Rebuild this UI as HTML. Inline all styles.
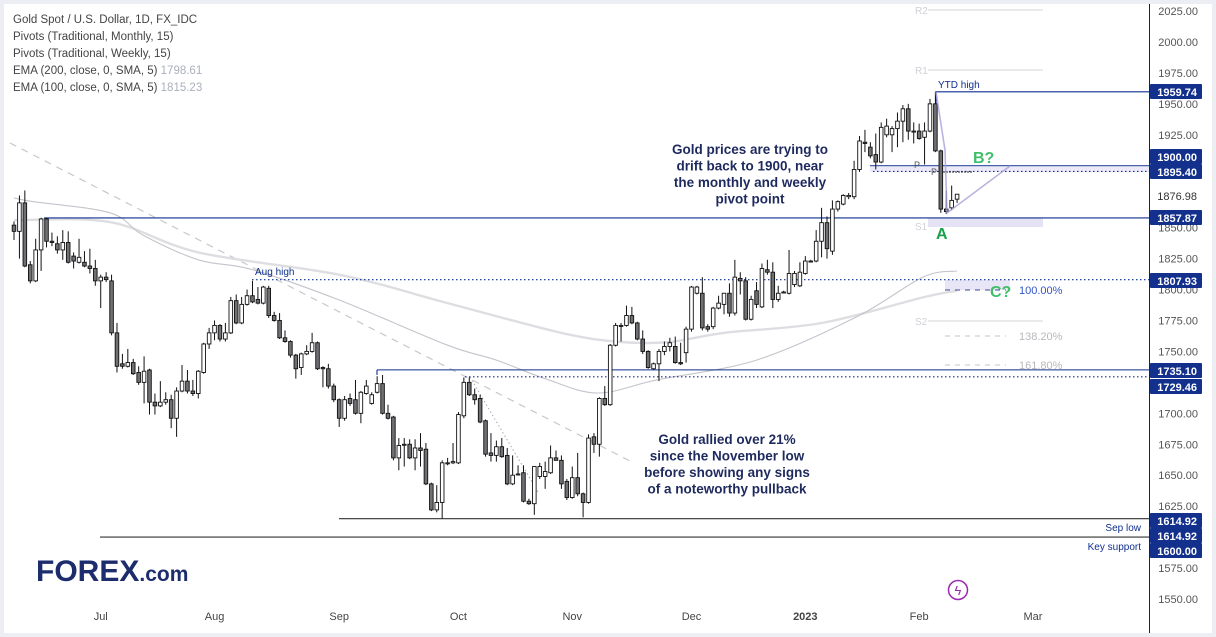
<!DOCTYPE html>
<html><head><meta charset="utf-8">
<style>
html,body{margin:0;padding:0;background:#eceef3;}
#wrap{position:relative;width:1216px;height:637px;overflow:hidden;font-family:"Liberation Sans",sans-serif;}
svg{position:absolute;left:0;top:0;}
</style></head>
<body>
<div id="wrap">
<svg id="chart" width="1216" height="637" viewBox="0 0 1216 637">
<rect x="4" y="4" width="1208" height="629" fill="#ffffff"/>
<g id="layer-bg"></g>
<g id="layer-candles"></g>
<g id="layer-fg"></g>
<g id="legend" font-size="11.5" fill="#444">
<text x="13" y="23">Gold Spot / U.S. Dollar, 1D, FX_IDC</text>
<text x="13" y="40">Pivots (Traditional, Monthly, 15)</text>
<text x="13" y="57">Pivots (Traditional, Weekly, 15)</text>
<text x="13" y="74">EMA (200, close, 0, SMA, 5) <tspan fill="#aab0bb">1798.61</tspan></text>
<text x="13" y="91">EMA (100, close, 0, SMA, 5) <tspan fill="#aab0bb">1815.23</tspan></text>
</g>
<g fill="#1c2c6c" font-weight="bold">
<text x="36" y="581" font-size="30">FOREX<tspan font-size="21">.com</tspan></text>
</g>
<g>
<circle cx="958" cy="590" r="9.5" fill="none" stroke="#9c27b0" stroke-width="1.5"/>
<text x="958" y="595" font-size="13" fill="#9c27b0" text-anchor="middle">ϟ</text>
</g>
</svg>
</div>
<script>
const opens=[1852,1847,1870,1820,1807,1832,1857,1839,1837,1832,1838,1827,1822,1822,1819,1817,1807,1810,1807,1765,1740,1738,1741,1733,1725,1735,1709,1706,1709,1711,1696,1718,1726,1718,1716,1733,1756,1765,1771,1760,1765,1791,1773,1788,1795,1792,1789,1801,1779,1775,1761,1758,1747,1737,1748,1750,1757,1737,1736,1722,1711,1696,1712,1711,1700,1716,1708,1717,1724,1700,1697,1664,1675,1675,1664,1672,1671,1643,1622,1628,1660,1660,1660,1698,1725,1715,1712,1694,1668,1666,1673,1666,1643,1651,1652,1629,1627,1649,1649,1652,1664,1662,1645,1632,1648,1635,1628,1681,1675,1712,1707,1755,1771,1771,1779,1773,1760,1750,1736,1740,1750,1754,1754,1741,1749,1768,1797,1797,1770,1770,1785,1788,1797,1781,1809,1807,1776,1799,1786,1816,1814,1792,1798,1797,1804,1803,1813,1823,1823,1839,1854,1831,1865,1869,1875,1875,1897,1919,1915,1909,1903,1925,1925,1930,1936,1946,1928,1928,1923,1928,1950,1912,1865,1866,1873];
const highs=[1855,1876,1880,1823,1841,1858,1858,1846,1843,1848,1847,1830,1841,1831,1833,1824,1812,1814,1812,1773,1748,1752,1744,1738,1746,1736,1716,1726,1717,1715,1721,1739,1735,1727,1735,1757,1769,1775,1772,1773,1794,1796,1794,1800,1807,1802,1803,1803,1782,1781,1767,1759,1748,1749,1755,1765,1758,1738,1740,1724,1712,1714,1716,1727,1718,1727,1717,1730,1731,1707,1698,1680,1680,1679,1679,1684,1676,1644,1642,1662,1664,1676,1701,1729,1729,1720,1715,1695,1684,1678,1680,1672,1666,1658,1658,1631,1657,1660,1661,1674,1670,1666,1647,1657,1668,1636,1683,1684,1713,1722,1756,1773,1773,1787,1786,1774,1767,1751,1741,1752,1758,1761,1762,1757,1770,1803,1803,1810,1772,1786,1795,1797,1805,1824,1814,1810,1795,1806,1821,1824,1822,1803,1799,1832,1815,1822,1827,1824,1848,1866,1859,1872,1872,1877,1878,1904,1924,1929,1919,1926,1935,1938,1932,1943,1949,1950,1935,1934,1935,1954,1960,1913,1880,1884,1877];
const lows=[1840,1825,1818,1805,1806,1815,1834,1835,1829,1824,1821,1817,1821,1818,1813,1803,1785,1806,1763,1733,1736,1737,1731,1723,1708,1699,1699,1705,1707,1688,1681,1717,1716,1714,1712,1732,1752,1759,1758,1758,1764,1772,1772,1787,1789,1788,1788,1777,1774,1760,1757,1745,1728,1731,1747,1749,1735,1721,1720,1709,1689,1694,1706,1699,1692,1715,1707,1716,1699,1695,1662,1654,1657,1663,1654,1657,1642,1621,1620,1615,1658,1659,1659,1696,1714,1707,1692,1665,1661,1661,1664,1642,1642,1650,1628,1626,1618,1647,1639,1651,1662,1639,1630,1631,1633,1616,1627,1668,1665,1706,1706,1754,1758,1770,1772,1759,1748,1736,1735,1726,1747,1750,1740,1739,1741,1766,1796,1767,1766,1768,1784,1780,1778,1779,1796,1775,1775,1785,1785,1812,1785,1790,1797,1796,1802,1802,1812,1822,1822,1826,1825,1828,1863,1868,1873,1873,1895,1911,1906,1897,1902,1923,1911,1915,1919,1921,1918,1921,1901,1927,1911,1862,1861,1864,1870];
const closes=[1847,1870,1819,1807,1832,1857,1839,1838,1832,1838,1822,1823,1826,1819,1817,1807,1810,1808,1765,1738,1738,1741,1732,1725,1734,1709,1706,1709,1711,1696,1718,1726,1718,1716,1734,1756,1765,1771,1760,1765,1791,1773,1788,1795,1790,1789,1802,1779,1775,1761,1758,1747,1736,1748,1750,1757,1736,1736,1722,1711,1696,1711,1708,1700,1717,1722,1715,1724,1700,1696,1664,1674,1675,1664,1672,1670,1643,1622,1628,1660,1660,1661,1699,1725,1715,1711,1693,1667,1666,1673,1665,1643,1650,1651,1629,1627,1657,1657,1653,1664,1662,1643,1632,1648,1635,1628,1680,1675,1712,1707,1755,1771,1771,1779,1773,1760,1750,1737,1740,1750,1754,1757,1741,1740,1768,1802,1802,1769,1768,1785,1789,1797,1781,1810,1807,1776,1792,1788,1817,1814,1792,1797,1798,1813,1813,1814,1823,1823,1839,1854,1833,1865,1871,1876,1876,1897,1920,1918,1908,1903,1931,1932,1930,1936,1946,1928,1928,1922,1928,1950,1912,1865,1863,1872,1877];
const ema100Idx=[0,3.5,17.7,23.8,34,44,60,80,89,98,107.6,118.6,137,155.5,167.7,174];
const ema100Val=[1874,1871,1862,1844,1824,1816,1791.5,1755,1743,1728,1716.4,1727,1743,1778,1810,1815];
const ema200Idx=[0,17.7,34,60,80,101,112,121,131,149,168,174];
const ema200Val=[1856,1854.5,1830,1812,1789,1765,1757.6,1757.6,1765,1773,1794,1799];
const yTicks=[2025,2000,1975,1950,1925,1900,1875,1850,1825,1800,1775,1750,1725,1700,1675,1650,1625,1600,1575,1550];
const monthLabels=["Jul","Aug","Sep","Oct","Nov","Dec","2023","Feb","Mar"];
const monthIdx=[16,37,60,82,103,125,146,167,188];

const NS="http://www.w3.org/2000/svg";
const X0=14, STEP=5.42;
function xS(i){return X0+i*STEP;}
function yS(p){return 11+(2025-p)*1.2379;}
function mk(tag,attrs,parent){const e=document.createElementNS(NS,tag);for(const k in attrs)e.setAttribute(k,attrs[k]);parent.appendChild(e);return e;}
const bg=document.getElementById('layer-bg');
const fg=document.getElementById('layer-fg');
const cg=document.getElementById('layer-candles');
const NAVY="#0f2f8f";

let t=mk('line',{x1:10,y1:143,x2:632,y2:462,stroke:"#c8c8cc","stroke-width":1.2,"stroke-dasharray":"7,6"},bg);


t=mk('line',{x1:470,y1:377,x2:538,y2:492,stroke:"#a9a9b0","stroke-width":1,"stroke-dasharray":"1.5,2.5"},bg);



function emaPath(idx,val){
  const P=idx.map((v,k)=>[xS(v),yS(val[k])]);
  let d="M"+P[0][0].toFixed(1)+","+P[0][1].toFixed(1);
  for(let k=0;k<P.length-1;k++){
    const p0=P[Math.max(0,k-1)],p1=P[k],p2=P[k+1],p3=P[Math.min(P.length-1,k+2)];
    const c1=[p1[0]+(p2[0]-p0[0])/6,p1[1]+(p2[1]-p0[1])/6];
    const c2=[p2[0]-(p3[0]-p1[0])/6,p2[1]-(p3[1]-p1[1])/6];
    d+="C"+c1[0].toFixed(1)+","+c1[1].toFixed(1)+" "+c2[0].toFixed(1)+","+c2[1].toFixed(1)+" "+p2[0].toFixed(1)+","+p2[1].toFixed(1);
  }
  return d;
}
t=mk('path',{d:emaPath(ema200Idx,ema200Val),fill:"none",stroke:"#dedee2","stroke-width":2.4,"stroke-linejoin":"round"},bg);


t=mk('path',{d:emaPath(ema100Idx,ema100Val),fill:"none",stroke:"#c4c4cc","stroke-width":1.1,"stroke-linejoin":"round"},bg);



const pivots=[["R2",10],["R1",70],["S2",321]];
pivots.forEach(p=>{
  let l=mk('line',{x1:928,y1:p[1],x2:1043,y2:p[1],stroke:"#d6d6da","stroke-width":1},bg);
  
  
  let tx=mk('text',{x:915,y:p[1]+4,"font-size":10,fill:"#d0d0d6"},bg);tx.textContent=p[0];
  
  
});
t=mk('rect',{x:928,y:218,width:115,height:9,fill:"#e4e2f4"},bg);


t=mk('text',{x:915,y:230,"font-size":10,fill:"#d0d0d6"},bg);t.textContent="S1";


t=mk('rect',{x:870,y:167,width:280,height:5,fill:"#eceaf8"},bg);


t=mk('rect',{x:945,y:280,width:65,height:10,fill:"#e8e6f6"},bg);



[[290,"100.00%","#3355cc"],[336,"138.20%","#b8b8be"],[365,"161.80%","#b8b8be"]].forEach(f=>{
  let l=mk('line',{x1:945,y1:f[0],x2:1006,y2:f[0],stroke:f[0]==290?"#3a4a9a":"#c4c4c8","stroke-width":1,"stroke-dasharray":"5,5"},bg);
  
  
  let tx=mk('text',{x:1019,y:f[0]+4,"font-size":11,fill:f[2]},bg);tx.textContent=f[1];
  
  
});

function hline(x1,y,x2,style,name,color){
  let l=mk('line',{x1:x1,y1:y,x2:x2,y2:y,stroke:color||NAVY,"stroke-width":1.1},bg);
  if(style==="dot")l.setAttribute('stroke-dasharray','1.5,2.5');
  
  
}
hline(936,yS(1959.74),1150,"solid","ytd-high-line");
t=mk('line',{x1:936,y1:yS(1959.74),x2:936,y2:yS(1950),stroke:NAVY,"stroke-width":1.1},bg);


hline(870,yS(1900),1150,"solid","level-1900-line");
hline(873,yS(1895.4),1150,"dot","level-1895-line");
hline(44,yS(1857.87),1150,"solid","level-1857-line");
hline(252,yS(1807.93),1150,"dot","aug-high-line");
hline(377,yS(1735.1),1150,"solid","level-1735-line");
t=mk('line',{x1:377,y1:yS(1735.1),x2:377,y2:yS(1731),stroke:NAVY,"stroke-width":1.1},bg);


hline(465,yS(1729.46),1150,"dot","level-1729-line");
hline(339,yS(1614.92),1150,"solid","sep-low-line","#333");
hline(100,yS(1600),1150,"solid","key-support-line","#333");
t=mk('line',{x1:943,y1:172,x2:972,y2:172,stroke:"#222","stroke-width":1,"stroke-dasharray":"2,1"},bg);


t=mk('text',{x:914,y:168,"font-size":9,fill:"#555"},bg);t.textContent="P";


t=mk('text',{x:931,y:175,"font-size":9,fill:"#555"},bg);t.textContent="P";



for(let i=0;i<closes.length;i++){
  const o=opens[i],c=closes[i],h=highs[i],l=lows[i];
  const x=xS(i);
  const g=mk('g',{},cg);
  
  
  mk('line',{x1:x,y1:yS(h),x2:x,y2:yS(l),stroke:"#111","stroke-width":1},g);
  const top=yS(Math.max(o,c)),bot=yS(Math.min(o,c));
  mk('rect',{x:x-1.8,y:top,width:3.6,height:Math.max(1,bot-top),fill:c>=o?"#ffffff":"#6f6f74",stroke:"#111","stroke-width":0.9},g);
}

t=mk('polyline',{points:"936,92 945,150 947,213 1010,166",fill:"none",stroke:"#a8a0d8","stroke-width":1.6,"stroke-opacity":0.8},fg);


[["A",936,239],["B?",973,163],["C?",990,297]].forEach(a=>{
  let tx=mk('text',{x:a[1],y:a[2],"font-size":16,"font-weight":"bold",fill:a[0]==="A"?"#1aa04a":"#3fbf6a"},fg);tx.textContent=a[0];
  
  
});

function note(lines,cx,y0,name){
  const tx=mk('text',{x:cx,y:y0,"font-size":13.5,"font-weight":"bold",fill:"#1e2a5e","text-anchor":"middle"},fg);
  
  
  lines.forEach((s,k)=>{const ts=mk('tspan',{x:cx,dy:k?16.5:0},tx);ts.textContent=s;});
}
note(["Gold prices are trying to","drift back to 1900, near","the monthly and weekly","pivot point"],750,154,'annotation-pivot');
note(["Gold rallied over 21%","since the November low","before showing any signs","of a noteworthy pullback"],727,444,'annotation-rally');
t=mk('text',{x:938,y:88,"font-size":10,fill:NAVY},fg);t.textContent="YTD high";


t=mk('text',{x:255,y:275,"font-size":10,fill:NAVY},fg);t.textContent="Aug high";



t=mk('line',{x1:1149.5,y1:4,x2:1149.5,y2:633,stroke:"#222","stroke-width":1},fg);


yTicks.forEach(v=>{
  let tx=mk('text',{x:1198,y:yS(v)+4,"font-size":11,fill:"#555","text-anchor":"end"},fg);
  tx.textContent=v.toFixed(2);
  
  
});
const boxes=[[1959.74,92],[1900.00,157],[1895.40,172],[1857.87,218],[1807.93,281],[1735.10,371],[1729.46,387],[1614.92,521],[1614.92,536],[1600.00,551]];
boxes.forEach(b=>{
  let r=mk('rect',{x:1150,y:b[1]-8,width:52,height:15,fill:"#12308c",rx:1},fg);
  
  
  let tx=mk('text',{x:1197,y:b[1]+4,"font-size":11,"font-weight":"bold",fill:"#fff","text-anchor":"end"},fg);
  tx.textContent=b[0].toFixed(2);
  
  
});
t=mk('rect',{x:1150,y:189,width:52,height:15,fill:"#fff"},fg);


t=mk('text',{x:1197,y:200,"font-size":11,fill:"#333","text-anchor":"end"},fg);t.textContent="1876.98";


t=mk('text',{x:1141,y:531,"font-size":10,fill:NAVY,"text-anchor":"end"},fg);t.textContent="Sep low";


t=mk('text',{x:1141,y:550,"font-size":10,fill:NAVY,"text-anchor":"end"},fg);t.textContent="Key support";



monthLabels.forEach((m,k)=>{
  let tx=mk('text',{x:xS(monthIdx[k]),y:620,"font-size":11,fill:"#444","text-anchor":"middle"},fg);
  if(m==="2023")tx.setAttribute('font-weight','bold');
  tx.textContent=m;
  
  
});
</script>
</body></html>
